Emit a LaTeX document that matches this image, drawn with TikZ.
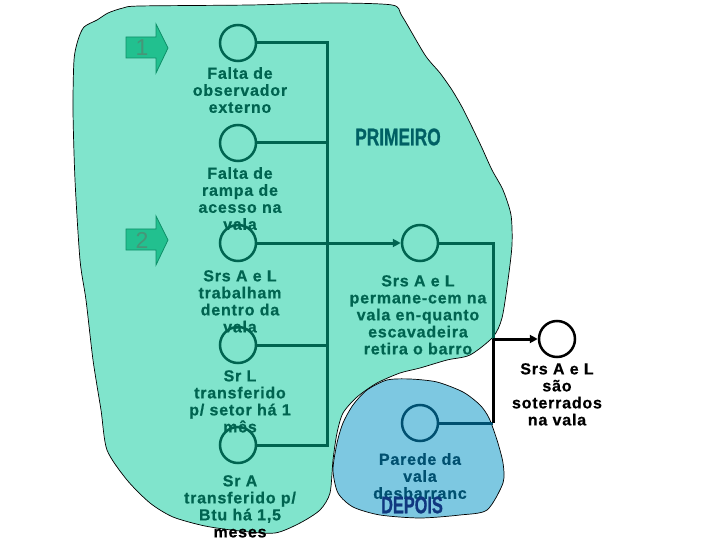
\documentclass[tikz,border=0pt]{standalone}
\usepackage{fontspec}
\setmainfont{Liberation Sans}
\newfontfamily\lab{Liberation Sans Bold}[LetterSpace=5,FakeBold=0.6]
\newfontfamily\heavy{Liberation Sans Bold}[FakeBold=1]
\usetikzlibrary{arrows.meta}
\definecolor{bgreen}{RGB}{128,228,204}
\definecolor{bblue}{RGB}{125,200,225}
\definecolor{dgreen}{RGB}{0,100,80}
\definecolor{dteal}{RGB}{0,96,100}
\definecolor{dblue}{RGB}{0,80,112}
\definecolor{navy}{RGB}{16,56,128}
\definecolor{agreen}{RGB}{34,192,143}
\definecolor{aline}{RGB}{14,143,104}
\definecolor{anum}{RGB}{70,150,120}
\tikzset{
  circ/.style={circle,draw=dgreen,line width=2.5pt,minimum size=36pt,inner sep=0pt},
  gline/.style={draw=dgreen,line width=3pt},
  bline/.style={draw=black,line width=3pt},
  lbl/.style={anchor=north,inner sep=0pt,align=center,text=dgreen,font=\lab\fontsize{16}{17}\selectfont},
  blockarrow/.style={fill=agreen,draw=aline,line width=0.8pt},
  num/.style={text=anum,font=\fontsize{23}{23}\selectfont,inner sep=0pt},
  bigword/.style={inner sep=0pt,font=\heavy\fontsize{24}{24}\selectfont}
}
\begin{document}
\begin{tikzpicture}[x=1pt,y=-1pt]
\useasboundingbox (0,0) rectangle (720,540);
\fill[white] (0,0) rectangle (720,540);
% green blob
\draw[fill=bgreen,line width=0.7pt] plot[smooth cycle,tension=0.45] coordinates {
 (140,6) (250,5) (330,3) (392,5) (402,16) (425,55) (440,73) (452,90) (462,107)
 (472,127) (482,148) (492,170) (503,190) (511,215) (512,245) (508,280) (502,318)
 (493,337) (470,355) (447,360) (420,368) (400,373) (377,383) (357,397) (343,413)
 (337,433) (333,460) (330,493) (320,510) (300,523) (275,533) (240,531) (205,526)
 (173,517) (150,503) (127,480) (107,450) (101,410) (93,360) (86,300) (80,260)
 (75,180) (73,110) (74,60) (78,40) (84,27) (97,20) (108,13) (123,8)};
% blue blob
\draw[fill=bblue,line width=0.7pt] plot[smooth cycle,tension=0.45] coordinates {
 (387,380) (410,379) (437,382) (463,392) (480,405) (489,418) (497,440) (503,463)
 (503,483) (487,510) (460,515) (420,518) (380,515) (353,507) (338,493) (333,470)
 (337,443) (343,423) (353,405) (367,390)};
% block arrows
\foreach \dy/\n [count=\i] in {0/1,192/2}{
  \begin{scope}[yshift=-\dy pt]
    \draw[blockarrow] (126,37) -- (156,37) -- (156,24) -- (168,48) -- (156,73)
      -- (156,58) -- (126,58) -- cycle;
    \node[num] (n\i) at (142,48) {\n};
  \end{scope}
}
% circles
\node[circ] (c1) at (238,43) {};
\node[circ] (c2) at (238,143) {};
\node[circ] (c3) at (238,243) {};
\node[circ] (c4) at (238,345) {};
\node[circ] (c5) at (238,445) {};
\node[circ] (c6) at (420,243) {};
\node[circ,draw=dblue] (c7) at (420,423) {};
\node[circ,draw=black] (c8) at (557,339) {};
% bus coordinates
\coordinate (b1) at (327,43);
\coordinate (b5) at (327,445);
\coordinate (r1) at (493,243);
\coordinate (r2) at (493,339);
\coordinate (r3) at (493,423);
% connectors
\draw[gline] (c1.east) -- (b1) -- (b5) -- (c5.east);
\draw[gline] (c2.east) -- (b1|-c2);
\draw[gline] (c4.east) -- (b1|-c4);
\draw[gline,-{Triangle[length=8pt,width=8pt]}] (c3.east) -- (c6.west);
\draw[gline] (c6.east) -- (r1) -- (r2);
\draw[draw=dblue,line width=3pt] (c7.east) -- (r3);
\draw[bline] (r3) -- (r2);
\draw[bline,-{Triangle[length=8pt,width=8pt]}] (r2) -- (c8.west);
% labels
\node[lbl] (t1) at (240,67) {Falta de\\observador\\externo};
\node[lbl] (t2) at (240,167) {Falta de\\rampa de\\acesso na\\vala};
\node[lbl] (t3) at (240,270) {Srs A e L\\trabalham\\dentro da\\vala};
\node[lbl] (t4) at (240,370) {Sr L\\transferido\\p/ setor há 1\\mês};
\node[lbl] (t5) at (240,475) {Sr A\\transferido p/\\Btu há 1,5\\\textcolor{black}{meses}};
\node[lbl] (t6) at (418,275) {Srs A e L\\permane-cem na\\vala en-quanto\\escavadeira\\retira o barro};
\node[lbl,text=dblue] (t7) at (420,453) {Parede da\\vala\\desbarranc};
\node[lbl,text=black] (t8) at (557,363) {Srs A e L\\são\\soterrados\\na vala};
\node[bigword,text=dteal] (p) at (398,137) {\scalebox{0.72}[1]{PRIMEIRO}};
\node[bigword,text=navy] (d) at (412,505) {\scalebox{0.68}[1]{DEPOIS}};
\end{tikzpicture}
\end{document}
